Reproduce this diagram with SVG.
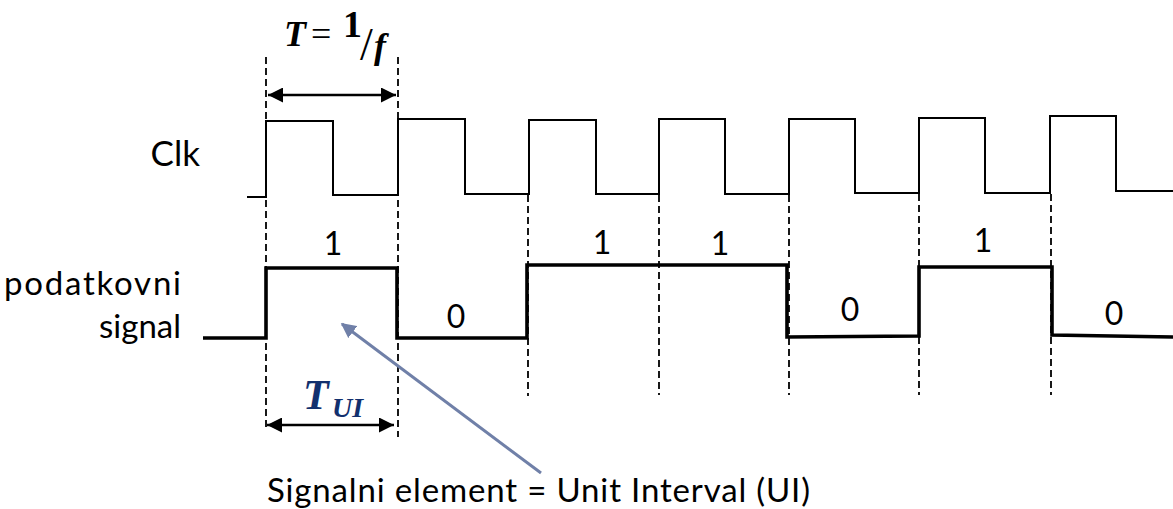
<svg xmlns="http://www.w3.org/2000/svg" width="1173" height="509" viewBox="0 0 1173 509">
<style>
.lbl{font-family:Lato,"Open Sans",sans-serif;fill:#000}
.dash{stroke:#000;stroke-width:1.8;stroke-dasharray:7 4;fill:none}
.clk{stroke:#000;stroke-width:2;fill:none;stroke-linejoin:miter}
.data{stroke:#000;stroke-width:3.6;fill:none;stroke-linejoin:miter}
.dim{stroke:#000;stroke-width:2.5;fill:none}
.m{font-family:"Liberation Serif",serif;font-weight:bold;font-style:italic}
</style>
<defs>
<marker id="ah" viewBox="0 0 10 10" refX="10" refY="5" markerWidth="6" markerHeight="6" orient="auto-start-reverse" markerUnits="strokeWidth">
<path d="M0,0 L10,5 L0,10 z" fill="#000"/>
</marker>
<marker id="ab" viewBox="0 0 10 10" refX="9" refY="5" markerWidth="5" markerHeight="5" orient="auto" markerUnits="strokeWidth">
<path d="M0,0 L10,5 L0,10 z" fill="#7080A8"/>
</marker>
</defs>
<g id="guides">
<line class="dash" x1="266" y1="57" x2="266" y2="428"/>
<line class="dash" x1="398" y1="57" x2="398" y2="437"/>
<line class="dash" x1="528" y1="195" x2="528" y2="396"/>
<line class="dash" x1="659" y1="195" x2="659" y2="395"/>
<line class="dash" x1="789" y1="195" x2="789" y2="395"/>
<line class="dash" x1="919" y1="194" x2="919" y2="395"/>
<line class="dash" x1="1051" y1="194" x2="1051" y2="395"/>
</g>
<g id="clk-signal">
<polyline class="clk" points="247,197 266,197 266,121 333,121 333,195 398,195 398,119 465,119 465,194 529,194 529,120 596,120 596,194 659,194 659,119 725,119 725,194 789,194 789,119 855,119 855,193 919,193 919,118 985,118 985,193 1050,193 1050,116 1116,116 1116,191 1173,191"/>
</g>
<g id="data-signal">
<polyline class="data" points="203,338 266,338 266,268 397,268 397,338 527,338 527,265 787,265 787,337 919,336 919,267 1052,267 1052,335 1173,337"/>
</g>
<g id="connectors">
<line class="dim" x1="268" y1="95" x2="396" y2="95" marker-start="url(#ah)" marker-end="url(#ah)"/>
<line class="dim" x1="267" y1="425" x2="394" y2="425" marker-start="url(#ah)" marker-end="url(#ah)"/>
<line x1="541" y1="473" x2="342" y2="324" stroke="#7080A8" stroke-width="3" marker-end="url(#ab)"/>
</g>
<g id="period-label">
<text class="m" x="284" y="46" font-size="36">T</text>
<text x="311" y="46" font-family="Liberation Serif,serif" font-size="36">=</text>
<text x="343" y="37" font-family="Liberation Serif,serif" font-weight="bold" font-size="38">1</text>
<text x="360" y="60" font-family="Liberation Serif,serif" font-size="46">/</text>
<text class="m" x="374" y="58" font-size="36">f</text>
</g>
<g id="tui-label">
<text class="m" x="303" y="409" font-size="42" fill="#12306E">T</text>
<text class="m" x="332" y="417" font-size="28" fill="#12306E">UI</text>
</g>
<g id="labels">
<text class="lbl" x="200" y="166" font-size="35" text-anchor="end">Clk</text>
<text class="lbl" x="181" y="295" font-size="33" text-anchor="end" textLength="177">podatkovni</text>
<text class="lbl" x="181" y="338" font-size="33" text-anchor="end">signal</text>
<text class="lbl" x="333" y="255" font-size="32" text-anchor="middle">1</text>
<text class="lbl" x="602" y="254" font-size="32" text-anchor="middle">1</text>
<text class="lbl" x="720" y="255" font-size="32" text-anchor="middle">1</text>
<text class="lbl" x="983" y="252" font-size="32" text-anchor="middle">1</text>
<text class="lbl" x="456" y="328" font-size="32" text-anchor="middle">0</text>
<text class="lbl" x="850" y="321" font-size="32" text-anchor="middle">0</text>
<text class="lbl" x="1114" y="325" font-size="32" text-anchor="middle">0</text>
<text class="lbl" x="267" y="502" font-size="33" textLength="543">Signalni element = Unit Interval (UI)</text>
</g>
</svg>
